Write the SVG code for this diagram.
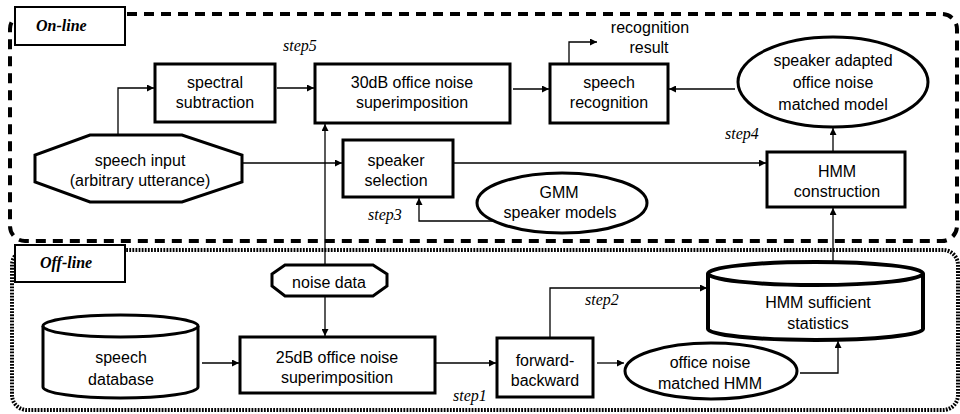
<svg xmlns="http://www.w3.org/2000/svg" width="960" height="414" viewBox="0 0 960 414">
<defs>
<style>
.bg{fill:#fff}
.region-on{fill:none;stroke:#000;stroke-width:4;stroke-dasharray:10 7}
.region-off{fill:none;stroke:#000;stroke-width:4;stroke-dasharray:1.8 1.3}
.lbl{fill:#fff;stroke:#000;stroke-width:2}
.lbltxt{font-family:"Liberation Serif",serif;font-style:italic;font-weight:bold;font-size:16px;fill:#000}
.box{fill:#fff;stroke:#000;stroke-width:3}
.thick{fill:#fff;stroke:#000;stroke-width:4}
.t{font-family:"Liberation Sans",Arial,sans-serif;font-size:16px;fill:#000;text-anchor:middle}
.step{font-family:"Liberation Serif",serif;font-style:italic;font-size:16px;fill:#000}
.c{fill:none;stroke:#000;stroke-width:1.3}
</style>
<marker id="ah" viewBox="0 0 10 10" refX="10" refY="5" markerWidth="9" markerHeight="7" orient="auto" markerUnits="userSpaceOnUse"><path d="M0,0 L10,5 L0,10 z" fill="#000"/></marker>
</defs>
<rect class="bg" x="0" y="0" width="960" height="414"/>

<g id="region-online">
<rect class="region-on" x="10" y="14" width="947" height="227" rx="15" ry="15"/>
</g>
<g id="region-offline">
<rect class="region-off" x="12" y="250" width="946" height="160" rx="15" ry="15"/>
</g>

<g id="connectors">
<path class="c" d="M118,135 V88 H154" marker-end="url(#ah)"/>
<path class="c" d="M277,88 H314" marker-end="url(#ah)"/>
<path class="c" d="M242,163 H342" marker-end="url(#ah)"/>
<path class="c" d="M325,265 V124" marker-end="url(#ah)"/>
<path class="c" d="M325,297 V336" marker-end="url(#ah)"/>
<path class="c" d="M513,89 H549" marker-end="url(#ah)"/>
<path class="c" d="M735,89 H669" marker-end="url(#ah)"/>
<path class="c" d="M569,64 V42 H597" marker-end="url(#ah)"/>
<path class="c" d="M453,163 H766" marker-end="url(#ah)"/>
<path class="c" d="M833,152 V128" marker-end="url(#ah)"/>
<path class="c" d="M493,221 H419 V198" marker-end="url(#ah)"/>
<path class="c" d="M833,262 V208" marker-end="url(#ah)"/>
<path class="c" d="M202,363 H239" marker-end="url(#ah)"/>
<path class="c" d="M435,363 H496" marker-end="url(#ah)"/>
<path class="c" d="M597,363 H624" marker-end="url(#ah)"/>
<path class="c" d="M550,338 V288 H707" marker-end="url(#ah)"/>
<path class="c" d="M800,373 H838 V341" marker-end="url(#ah)"/>
</g>

<g id="label-online">
<rect class="lbl" x="15" y="7" width="110" height="38"/>
<text class="lbltxt" x="36" y="31">On-line</text>
</g>
<g id="label-offline">
<rect class="lbl" x="15" y="245" width="110" height="37"/>
<text class="lbltxt" x="40" y="268">Off-line</text>
</g>

<g id="speech-input">
<polygon class="box" points="90,135 182,135 242,155 242,182 182,202 90,202 35,182 35,155"/>
<text class="t" x="140" y="166">speech input</text>
<text class="t" x="140" y="186">(arbitrary utterance)</text>
</g>
<g id="spectral-subtraction">
<rect class="box" x="155" y="64" width="120" height="58"/>
<text class="t" x="215" y="88">spectral</text>
<text class="t" x="215" y="108">subtraction</text>
</g>
<g id="superimposition-30db">
<rect class="box" x="315" y="64" width="195" height="59"/>
<text class="t" x="412" y="88">30dB office noise</text>
<text class="t" x="412" y="108">superimposition</text>
</g>
<g id="speech-recognition">
<rect class="box" x="550" y="64" width="118" height="59"/>
<text class="t" x="609" y="88">speech</text>
<text class="t" x="609" y="108">recognition</text>
</g>
<g id="recognition-result">
<text class="t" x="650" y="33">recognition</text>
<text class="t" x="649" y="53">result</text>
</g>
<g id="adapted-model">
<ellipse class="box" cx="833" cy="82" rx="95" ry="45"/>
<text class="t" x="833" y="66">speaker adapted</text>
<text class="t" x="833" y="88">office noise</text>
<text class="t" x="833" y="110">matched model</text>
</g>
<g id="speaker-selection">
<rect class="box" x="343" y="140" width="110" height="57"/>
<text class="t" x="396" y="166">speaker</text>
<text class="t" x="396" y="186">selection</text>
</g>
<g id="hmm-construction">
<rect class="box" x="767" y="152" width="138" height="55"/>
<text class="t" x="837" y="177">HMM</text>
<text class="t" x="837" y="197">construction</text>
</g>
<g id="gmm-models">
<ellipse class="box" cx="562" cy="203" rx="85" ry="30"/>
<text class="t" x="559" y="198">GMM</text>
<text class="t" x="560" y="218">speaker models</text>
</g>
<g id="noise-data">
<polygon class="box" points="285,265 373,265 387,274 387,286 373,296 285,296 272,286 272,274"/>
<text class="t" x="329" y="288">noise data</text>
</g>
<g id="speech-database">
<path class="box" d="M43,326 V387 A77.5,11 0 0 0 198,387 V326"/>
<ellipse class="box" cx="120.5" cy="326" rx="77.5" ry="11"/>
<text class="t" x="121" y="363">speech</text>
<text class="t" x="121" y="385">database</text>
</g>
<g id="superimposition-25db">
<rect class="box" x="240" y="337" width="195" height="56"/>
<text class="t" x="337" y="363">25dB office noise</text>
<text class="t" x="337" y="383">superimposition</text>
</g>
<g id="forward-backward">
<rect class="box" x="497" y="338" width="96" height="59"/>
<text class="t" x="545" y="366">forward-</text>
<text class="t" x="545" y="386">backward</text>
</g>
<g id="noise-matched-hmm">
<ellipse class="box" cx="711" cy="371" rx="86" ry="28"/>
<text class="t" x="710" y="368">office noise</text>
<text class="t" x="710" y="389">matched HMM</text>
</g>
<g id="hmm-statistics">
<path class="thick" d="M708,273.5 V329 A107.5,11 0 0 0 923,329 V273.5"/>
<ellipse class="thick" cx="815.5" cy="273.5" rx="107.5" ry="11.5"/>
<text class="t" x="818" y="308">HMM sufficient</text>
<text class="t" x="818" y="329">statistics</text>
</g>

<g id="steps">
<text class="step" x="283" y="51">step5</text>
<text class="step" x="725" y="139">step4</text>
<text class="step" x="368" y="220">step3</text>
<text class="step" x="585" y="305">step2</text>
<text class="step" x="453" y="401">step1</text>
</g>
</svg>
